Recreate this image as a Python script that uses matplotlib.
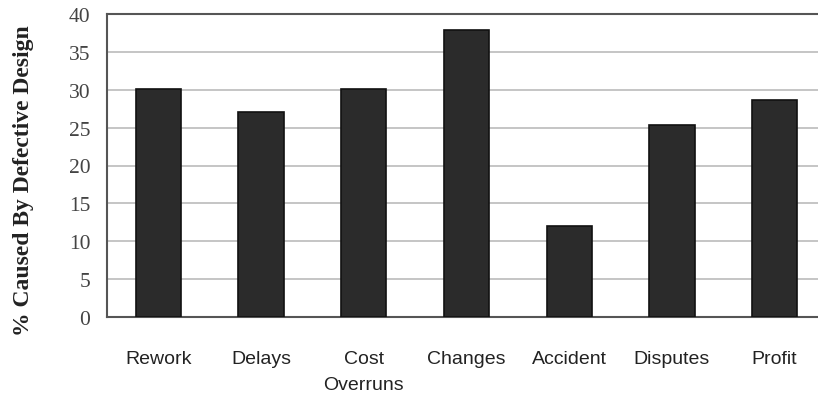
import matplotlib
matplotlib.use("Agg")
import matplotlib.pyplot as plt

categories = ["Rework", "Delays", "Cost\nOverruns", "Changes", "Accident", "Disputes", "Profit"]
values = [30.1, 27.0, 30.1, 37.9, 12.0, 25.3, 28.6]
yticks = [0, 5, 10, 15, 20, 25, 30, 35, 40]

W, H = 818, 402
fig = plt.figure(figsize=(W / 100, H / 100), dpi=100)
left, right, top, bottom = 107, 826, 15, 318
ax = fig.add_axes([left / W, 1 - bottom / H, (right - left) / W, (bottom - top) / H])

ax.bar(range(len(categories)), values, width=0.44, color="#2b2b2b",
       edgecolor="#111111", linewidth=1.2, zorder=3)
ax.set_xlim(-0.5, len(categories) - 0.5)
ax.set_ylim(0, 40)
ax.set_yticks(yticks)
ax.set_yticklabels([str(t) for t in yticks], fontfamily="Liberation Serif", fontsize=15.5, color="#444444")
ax.set_xticks(range(len(categories)))
ax.set_xticklabels(categories, fontfamily="Liberation Sans", fontsize=14, color="#222222",
                   linespacing=1.7)
ax.tick_params(axis="both", length=0)
ax.tick_params(axis="x", pad=24)
ax.tick_params(axis="y", pad=12)
ax.grid(axis="y", color="#bbbbbb", linewidth=1.2, zorder=0)
for s in ["top", "left", "bottom"]:
    ax.spines[s].set_color("#555555")
    ax.spines[s].set_linewidth(1.5)
ax.spines["right"].set_visible(False)
ax.set_ylabel("% Caused By Defective Design", fontfamily="Liberation Serif",
              fontweight="bold", fontsize=17, color="#222222")
ax.yaxis.set_label_coords(-0.102, 0.455)

fig.savefig("out.png", dpi=100)
